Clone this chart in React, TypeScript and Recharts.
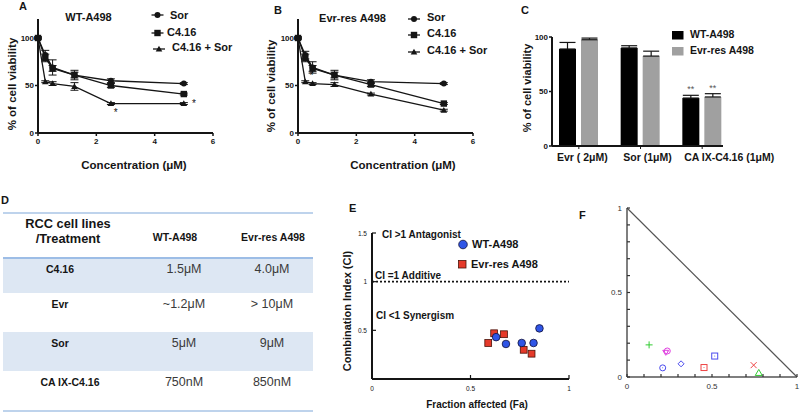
import React from 'react';
import {
  ComposedChart, Line, Scatter, XAxis, YAxis, ErrorBar,
  BarChart, Bar, LabelList, ScatterChart, ReferenceLine,
} from 'recharts';

const FONT = '"Liberation Sans", Arial, Helvetica, sans-serif';

// A / B - viability vs concentration (µM)
const conc = [0, 0.25, 0.5, 1.25, 2.5, 5];

const wtSor = [100, 82, 69, 61, 55, 52];
const wtSorErr = [1, 5, 8, 5, 2, 1];
const wtC416 = [100, 79, 68, 61, 50, 41];
const wtC416Err = [1, 4, 3, 3, 2, 1];
const wtCombo = [100, 54, 52, 49, 31, 31];
const wtComboErr = [1, 1, 2, 4, 1, 1];
const wtStarX = [2.66, 5.35];
const wtStarY = [22, 31];

const evrSor = [100, 82, 69, 61, 54, 52];
const evrSorErr = [1, 4, 6, 5, 2, 1];
const evrC416 = [100, 79, 68, 61, 51, 31];
const evrC416Err = [1, 4, 3, 3, 2, 1];
const evrCombo = [100, 54, 52, 51, 41, 24];
const evrComboErr = [1, 1, 1, 2, 1, 1];
const evrStarX = [0.46];
const evrStarY = [61];

// C - single agents
const cCats = ['Evr ( 2μM)', 'Sor (1μM)', 'CA IX-C4.16 (1μM)'];
const cWt = [89, 90, 44];
const cWtErr = [6, 2, 2.5];
const cEvr = [97.5, 82.5, 45];
const cEvrErr = [1.5, 4.5, 3];
const cSig = ['', '', '**'];

// D - IC50 table
const dRows = ['C4.16', 'Evr', 'Sor', 'CA IX-C4.16'];
const dWt = ['1.5μM', '~1.2μM', '5μM', '750nM'];
const dEvr = ['4.0μM', '> 10μM', '9μM', '850nM'];

// E - combination index
const eWtFa = [0.63, 0.68, 0.76, 0.82, 0.85];
const eWtCi = [0.43, 0.36, 0.37, 0.37, 0.52];
const eEvrFa = [0.59, 0.62, 0.67, 0.77, 0.81];
const eEvrCi = [0.37, 0.47, 0.46, 0.3, 0.26];

// F - ternary-style plot
const fX = [0.13, 0.237, 0.228, 0.21, 0.318, 0.453, 0.516, 0.745, 0.775];
const fY = [0.19, 0.154, 0.146, 0.054, 0.078, 0.056, 0.124, 0.07, 0.024];
const fTicks = [0, 0.1, 0.2, 0.3, 0.4, 0.5, 0.6, 0.7, 0.8, 0.9, 1];

const fStyle = [
  { kind: 'plus', color: '#33cc33' },
  { kind: 'circle', color: '#e040e0' },
  { kind: 'triDown', color: '#e040e0' },
  { kind: 'circle', color: '#4a4aee' },
  { kind: 'diamond', color: '#4a4aee' },
  { kind: 'square', color: '#ee4444' },
  { kind: 'square', color: '#4a4aee' },
  { kind: 'cross', color: '#ee4444' },
  { kind: 'triUp', color: '#33cc33' },
];

const INK = '#151515';
const tickStyle = { fontSize: 8, fontWeight: 'bold', fill: INK, fontFamily: FONT };

const circleDot = (p: any) => <circle key={p.index} cx={p.cx} cy={p.cy} r={3} fill={INK} />;
const squareDot = (p: any) => <rect key={p.index} x={p.cx - 3.2} y={p.cy - 3.2} width={6.4} height={6.4} fill={INK} />;
const triDot = (p: any) => (
  <polygon key={p.index} points={`${p.cx},${p.cy - 3.3} ${p.cx + 3.3},${p.cy + 2.5} ${p.cx - 3.3},${p.cy + 2.5}`} fill={INK} />
);
const starShape = (p: any) => (
  <text x={p.cx} y={p.cy} textAnchor="middle" dominantBaseline="central" fontSize={10} fontFamily={FONT} fill={INK}>*</text>
);

function ViabilityChart({ sor, sorErr, c416, c416Err, combo, comboErr, starX, starY }: any) {
  const rows = conc.map((c, i) => ({
    conc: c, sor: sor[i], sorErr: sorErr[i], c416: c416[i], c416Err: c416Err[i], combo: combo[i], comboErr: comboErr[i],
  }));
  const stars = starX.map((x: number, i: number) => ({ conc: x, star: starY[i] }));
  return (
    <ComposedChart width={260} height={180} data={rows} margin={{ top: 19, right: 47, bottom: 27, left: 0 }}>
      <XAxis type="number" dataKey="conc" domain={[0, 6]} ticks={[0, 2, 4, 6]} height={20}
        axisLine={{ stroke: INK, strokeWidth: 2 }} tickLine={{ stroke: INK, strokeWidth: 1.5 }}
        tickSize={3} tickMargin={2} tick={tickStyle} />
      <YAxis type="number" domain={[0, 120]} ticks={[0, 50, 100]} width={38}
        axisLine={{ stroke: INK, strokeWidth: 2 }} tickLine={{ stroke: INK, strokeWidth: 1.5 }}
        tickSize={3} tickMargin={1} tick={tickStyle} />
      <Line dataKey="sor" stroke={INK} strokeWidth={1.3} dot={circleDot} isAnimationActive={false}>
        <ErrorBar dataKey="sorErr" width={4} stroke={INK} strokeWidth={1} direction="y" />
      </Line>
      <Line dataKey="c416" stroke={INK} strokeWidth={1.3} dot={squareDot} isAnimationActive={false}>
        <ErrorBar dataKey="c416Err" width={4} stroke={INK} strokeWidth={1} direction="y" />
      </Line>
      <Line dataKey="combo" stroke={INK} strokeWidth={1.3} dot={triDot} isAnimationActive={false}>
        <ErrorBar dataKey="comboErr" width={4} stroke={INK} strokeWidth={1} direction="y" />
      </Line>
      <Scatter data={stars} dataKey="star" shape={starShape} isAnimationActive={false} />
    </ComposedChart>
  );
}

// the category labels in C sit a little right of their bars, the long one most
const cLabelShift = [3.5, 7, 27];
const cTick = (p: any) => (
  <text x={p.x + cLabelShift[p.index]} y={p.y + 6} textAnchor="middle" dominantBaseline="central"
    fontSize={10.5} fontWeight="bold" fill={INK} fontFamily={FONT}>{p.payload.value}</text>
);

function BarsChart() {
  const rows = cCats.map((cat, i) => ({
    cat, wt: cWt[i], wtErr: [0, cWtErr[i]], evr: cEvr[i], evrErr: [0, cEvrErr[i]], sig: cSig[i],
  }));
  const sigStyle = { fontSize: 9, fill: '#555', fontFamily: FONT };
  return (
    <BarChart width={280} height={180} data={rows} margin={{ top: 37, right: 77, bottom: 10, left: 0 }}
      barSize={17} barGap={5}>
      <XAxis dataKey="cat" padding={{ left: -4, right: -10 }} height={24} interval={0}
        axisLine={{ stroke: INK, strokeWidth: 2 }} tickLine={{ stroke: INK, strokeWidth: 1 }}
        tickSize={3} tickMargin={2} tick={cTick} />
      <YAxis domain={[0, 100]} ticks={[0, 50, 100]} width={32}
        axisLine={{ stroke: INK, strokeWidth: 2 }} tickLine={{ stroke: INK, strokeWidth: 1.5 }}
        tickSize={3} tickMargin={1} tick={tickStyle} />
      <Bar dataKey="wt" fill="#000" isAnimationActive={false}>
        <ErrorBar dataKey="wtErr" width={8} stroke={INK} strokeWidth={1.2} direction="y" />
        <LabelList dataKey="sig" position="top" offset={6} style={sigStyle} />
      </Bar>
      <Bar dataKey="evr" fill="#a0a0a0" isAnimationActive={false}>
        <ErrorBar dataKey="evrErr" width={8} stroke={INK} strokeWidth={1.2} direction="y" />
        <LabelList dataKey="sig" position="top" offset={6} style={sigStyle} />
      </Bar>
    </BarChart>
  );
}

// ticks drawn pointing into the plot
const inTickY = (len: number, size: number, bold: boolean, color: string, show?: number[]) => (p: any) => {
  const v = p.payload.value;
  return (
    <g>
      <line x1={p.x} x2={p.x + len} y1={p.y} y2={p.y} stroke={color} strokeWidth={1.2} />
      {(!show || show.includes(v)) && (
        <text x={p.x - 5} y={p.y} textAnchor="end" dominantBaseline="central" fontSize={size}
          fontWeight={bold ? 'bold' : 'normal'} fill={color} fontFamily={FONT}>{v}</text>
      )}
    </g>
  );
};
const inTickX = (len: number, size: number, bold: boolean, color: string, show?: number[]) => (p: any) => {
  const v = p.payload.value;
  return (
    <g>
      <line x1={p.x} x2={p.x} y1={p.y} y2={p.y - len} stroke={color} strokeWidth={1.2} />
      {(!show || show.includes(v)) && (
        <text x={p.x} y={p.y + 9} textAnchor="middle" dominantBaseline="central" fontSize={size}
          fontWeight={bold ? 'bold' : 'normal'} fill={color} fontFamily={FONT}>{v}</text>
      )}
    </g>
  );
};

const eCircle = (p: any) => <circle cx={p.cx} cy={p.cy} r={3.8} fill="#2f55e6" stroke="#10103a" strokeWidth={0.8} />;
const eSquare = (p: any) => <rect x={p.cx - 3.4} y={p.cy - 3.4} width={6.8} height={6.8} fill="#e53a2a" stroke="#4a1208" strokeWidth={0.8} />;

function CiChart() {
  const wt = eWtFa.map((fa, i) => ({ fa, ci: eWtCi[i] }));
  const evr = eEvrFa.map((fa, i) => ({ fa, ci: eEvrCi[i] }));
  return (
    <ScatterChart width={240} height={212} margin={{ top: 33, right: 11, bottom: 13, left: 0 }}>
      <XAxis type="number" dataKey="fa" domain={[0, 1]} ticks={[0, 0.5, 1]} height={20}
        axisLine={{ stroke: INK, strokeWidth: 2 }} tickLine={false} tickSize={0} tickMargin={0}
        tick={inTickX(4, 6.5, false, INK)} />
      <YAxis type="number" dataKey="ci" domain={[0, 1.5]} ticks={[0.5, 1, 1.5]} width={32}
        axisLine={{ stroke: INK, strokeWidth: 2 }} tickLine={false} tickSize={0} tickMargin={0}
        tick={inTickY(4, 6.5, false, INK)} />
      <ReferenceLine y={1} stroke={INK} strokeWidth={1.6} strokeDasharray="2 2" />
      <Scatter data={evr} shape={eSquare} isAnimationActive={false} />
      <Scatter data={wt} shape={eCircle} isAnimationActive={false} />
    </ScatterChart>
  );
}

const fMarker = (kind: string, color: string) => (p: any) => {
  const { cx, cy } = p;
  const s = { fill: 'none', stroke: color, strokeWidth: 1 };
  switch (kind) {
    case 'plus':
      return <path d={`M${cx - 3.5},${cy}H${cx + 3.5}M${cx},${cy - 3.5}V${cy + 3.5}`} {...s} />;
    case 'cross':
      return <path d={`M${cx - 3},${cy - 3}L${cx + 3},${cy + 3}M${cx - 3},${cy + 3}L${cx + 3},${cy - 3}`} {...s} />;
    case 'circle':
      return (
        <g><circle cx={cx} cy={cy} r={3} {...s} /><circle cx={cx} cy={cy} r={0.5} fill={color} /></g>
      );
    case 'square':
      return (
        <g><rect x={cx - 3} y={cy - 3} width={6} height={6} {...s} /><circle cx={cx} cy={cy} r={0.5} fill={color} /></g>
      );
    case 'diamond':
      return <polygon points={`${cx},${cy - 3} ${cx + 3},${cy} ${cx},${cy + 3} ${cx - 3},${cy}`} {...s} />;
    case 'triDown':
      return <polygon points={`${cx - 3},${cy - 2} ${cx + 3},${cy - 2} ${cx},${cy + 3}`} {...s} />;
    default:
      return <polygon points={`${cx},${cy - 3.5} ${cx + 3.5},${cy + 2.5} ${cx - 3.5},${cy + 2.5}`} {...s} />;
  }
};

function TernaryChart() {
  const FG = '#555';
  return (
    <ScatterChart width={210} height={222} margin={{ top: 18, right: 3, bottom: 15, left: 0 }}>
      <XAxis type="number" dataKey="x" domain={[0, 1]} ticks={fTicks} height={20} interval={0}
        axisLine={{ stroke: FG, strokeWidth: 1.5 }} tickLine={false} tickSize={0} tickMargin={0}
        tick={inTickX(3, 8, false, '#333', [0, 0.5, 1])} />
      <YAxis type="number" dataKey="y" domain={[0, 1]} ticks={fTicks} width={37} interval={0}
        axisLine={{ stroke: FG, strokeWidth: 1.5 }} tickLine={false} tickSize={0} tickMargin={0}
        tick={inTickY(3, 8, false, '#333', [0, 0.5, 1])} />
      <ReferenceLine segment={[{ x: 0, y: 1 }, { x: 1, y: 0 }]} stroke={FG} strokeWidth={1.2} />
      {fX.map((x, i) => (
        <Scatter key={i} data={[{ x, y: fY[i] }]} shape={fMarker(fStyle[i].kind, fStyle[i].color)} isAnimationActive={false} />
      ))}
    </ScatterChart>
  );
}

function T({ x, y, size = 11, bold = true, anchor = 'start', color = INK, rotate = false, children }: any) {
  return (
    <text x={x} y={y} fontSize={size} fontWeight={bold ? 'bold' : 'normal'} textAnchor={anchor} fill={color}
      dominantBaseline="central" fontFamily={FONT} transform={rotate ? `rotate(-90 ${x} ${y})` : undefined}>
      {children}
    </text>
  );
}

function LegendMark({ x, y, kind }: any) {
  const m = kind === 'circle' ? circleDot({ cx: x, cy: y }) : kind === 'square' ? squareDot({ cx: x, cy: y }) : triDot({ cx: x, cy: y });
  return (
    <g>
      <line x1={x - 6} x2={x + 6} y1={y} y2={y} stroke={INK} strokeWidth={1.3} />
      {m}
    </g>
  );
}

export default function App() {
  const rowTop = [258, 293, 332, 371];
  const rowH = [35, 39, 39, 40];
  return (
    <div style={{ position: 'absolute', left: 0, top: 0, width: 800, height: 412, background: '#fff', overflow: 'hidden' }}>
      <div style={{ position: 'absolute', left: 0, top: 0 }}>
        <ViabilityChart sor={wtSor} sorErr={wtSorErr} c416={wtC416} c416Err={wtC416Err}
          combo={wtCombo} comboErr={wtComboErr} starX={wtStarX} starY={wtStarY} />
      </div>
      <div style={{ position: 'absolute', left: 260, top: 0 }}>
        <ViabilityChart sor={evrSor} sorErr={evrSorErr} c416={evrC416} c416Err={evrC416Err}
          combo={evrCombo} comboErr={evrComboErr} starX={evrStarX} starY={evrStarY} />
      </div>
      <div style={{ position: 'absolute', left: 520, top: 0 }}>
        <BarsChart />
      </div>
      <div style={{ position: 'absolute', left: 340, top: 200 }}>
        <CiChart />
      </div>
      <div style={{ position: 'absolute', left: 590, top: 190 }}>
        <TernaryChart />
      </div>

      <svg width={800} height={412} style={{ position: 'absolute', left: 0, top: 0, pointerEvents: 'none' }}>
        {/* panel letters */}
        <T x={19} y={6}>A</T>
        <T x={274} y={10}>B</T>
        <T x={521} y={10}>C</T>
        <T x={1} y={200}>D</T>
        <T x={349} y={208}>E</T>
        <T x={579} y={215}>F</T>

        {/* A */}
        <T x={88.5} y={17} anchor="middle">WT-A498</T>
        <LegendMark x={157.5} y={15} kind="circle" />
        <T x={170} y={15}>Sor</T>
        <LegendMark x={157.5} y={33} kind="square" />
        <T x={167} y={32}>C4.16</T>
        <LegendMark x={159} y={49} kind="tri" />
        <T x={172} y={47}>C4.16 + Sor</T>
        <T x={134} y={165} size={11.5} anchor="middle">Concentration (μM)</T>
        <T x={12} y={84} size={11.5} anchor="middle" rotate>% of cell viability</T>

        {/* B */}
        <T x={352.5} y={18} anchor="middle">Evr-res A498</T>
        <LegendMark x={414} y={19} kind="circle" />
        <T x={427} y={17}>Sor</T>
        <LegendMark x={414} y={35} kind="square" />
        <T x={427} y={33}>C4.16</T>
        <LegendMark x={414} y={52} kind="tri" />
        <T x={427} y={50}>C4.16 + Sor</T>
        <T x={403} y={165} size={11.5} anchor="middle">Concentration (μM)</T>
        <T x={271} y={86} size={11.5} anchor="middle" rotate>% of cell viability</T>

        {/* C */}
        <T x={527} y={88} size={11} anchor="middle" rotate>% of cell viability</T>
        <rect x={672} y={31} width={11.5} height={8.5} fill="#000" />
        <T x={690} y={34} size={10.5}>WT-A498</T>
        <rect x={672} y={47} width={11.5} height={8.5} fill="#a0a0a0" />
        <T x={690} y={50} size={10.5}>Evr-res A498</T>

        {/* D table */}
        {rowTop.map((t, i) => (i % 2 === 0 ? <rect key={i} x={3} y={t} width={310} height={rowH[i]} fill="#dde7f3" /> : null))}
        <line x1={3} x2={313} y1={213} y2={213} stroke="#a9c4e6" strokeWidth={1.5} />
        <line x1={3} x2={313} y1={258} y2={258} stroke="#9dbde6" strokeWidth={2} />
        <line x1={3} x2={313} y1={411} y2={411} stroke="#a9c4e6" strokeWidth={1.5} />
        <T x={68} y={223} size={12.8} anchor="middle">RCC cell lines</T>
        <T x={68} y={238.5} size={12.8} anchor="middle">/Treatment</T>
        <T x={175} y={237} size={10.5} anchor="middle">WT-A498</T>
        <T x={273} y={237} size={10.5} anchor="middle">Evr-res A498</T>
        {dRows.map((r, i) => (
          <g key={r}>
            <T x={i === 3 ? 70 : 60} y={rowTop[i] + 10.5} size={10.5} anchor="middle">{r}</T>
            <T x={184} y={rowTop[i] + 10.5} size={12.5} bold={false} color="#3a3a3a" anchor="middle">{dWt[i]}</T>
            <T x={272} y={rowTop[i] + 10.5} size={12.5} bold={false} color="#3a3a3a" anchor="middle">{dEvr[i]}</T>
          </g>
        ))}

        {/* E */}
        <T x={382} y={234} size={10}>CI &gt;1 Antagonist</T>
        <T x={375} y={275} size={10}>CI =1 Additive</T>
        <T x={376} y={315} size={10}>CI &lt;1 Synergism</T>
        <circle cx={463} cy={244.5} r={4.3} fill="#2f55e6" stroke="#10103a" strokeWidth={0.8} />
        <T x={472} y={244} size={11}>WT-A498</T>
        <rect x={458.5} y={260.5} width={7.5} height={7.5} fill="#e53a2a" stroke="#4a1208" strokeWidth={0.8} />
        <T x={471} y={264} size={11}>Evr-res A498</T>
        <T x={347} y={311} size={11} anchor="middle" rotate>Combination Index (CI)</T>
        <T x={477} y={404} size={10} anchor="middle">Fraction affected (Fa)</T>
      </svg>
    </div>
  );
}
